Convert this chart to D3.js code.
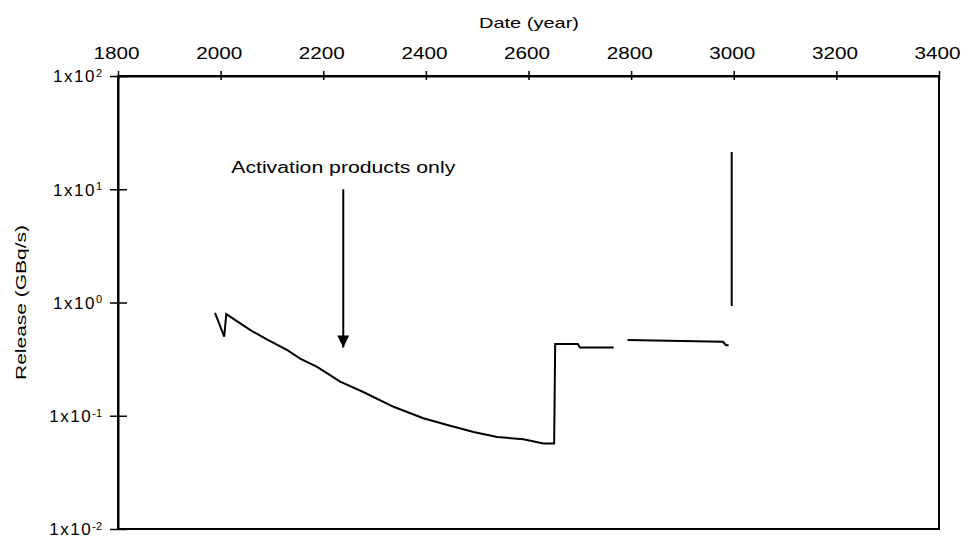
<!DOCTYPE html>
<html>
<head>
<meta charset="utf-8">
<script src="https://cdn.jsdelivr.net/npm/d3@7"></script>
<style>
  body { margin: 0; background: #fff; }
  text { font-family: "Liberation Sans", Arial, sans-serif; fill: #000; }
</style>
</head>
<body>
<div id="chart"></div>
<script>
// data
var mainYears  = [1989, 2007, 2011, 2058, 2091, 2130, 2155, 2188, 2233, 2278, 2337, 2395, 2442, 2493, 2539, 2590, 2629, 2650, 2652, 2696, 2700, 2766];
var mainValues = [0.81, 0.50, 0.79, 0.57, 0.47, 0.38, 0.32, 0.27, 0.20, 0.162, 0.12, 0.095, 0.083, 0.072, 0.065, 0.062, 0.057, 0.057, 0.43, 0.43, 0.40, 0.40];
var lateYears  = [2793, 2979, 2985, 2990];
var lateValues = [0.467, 0.45, 0.42, 0.42];
var spikeYears  = [2996, 2996];
var spikeValues = [21.3, 0.93];

var xTicks = [1800, 2000, 2200, 2400, 2600, 2800, 3000, 3200, 3400];
var yTicks = [1e-2, 1e-1, 1e0, 1e1, 1e2];
var yExponents = ["-2", "-1", "0", "1", "2"];

var annotation = {label: "Activation products only", year: 2239, from: 10, to: 0.40, textValue: 15.5};

var margin = {top: 76, right: 25, bottom: 9, left: 118},
    width = 964 - margin.left - margin.right,
    height = 538 - margin.top - margin.bottom;

var svg = d3.select("#chart")
    .append("svg")
    .attr("width", 964)
    .attr("height", 538);

var g = svg.append("g")
    .attr("transform", "translate(" + margin.left + "," + margin.top + ")");

var x = d3.scaleLinear().domain([1800, 3400]).range([0, width]);
var y = d3.scaleLog().domain([1e-2, 1e2]).range([height, 0]);

// frame
g.append("rect")
    .attr("width", width)
    .attr("height", height)
    .attr("fill", "none")
    .attr("stroke", "#000")
    .attr("stroke-width", 2);

// top axis
var xAxis = g.append("g")
    .call(d3.axisTop(x).tickValues(xTicks).tickFormat(d3.format("d")).tickSizeOuter(0));
xAxis.select(".domain").attr("stroke-width", 2);
xAxis.selectAll(".tick line").attr("y1", -5).attr("y2", 4).attr("stroke-width", 1.5);
xAxis.selectAll(".tick text")
    .attr("y", -17)
    .attr("dx", -2)
    .attr("font-size", 16)
    .attr("textLength", 46)
    .attr("lengthAdjust", "spacingAndGlyphs");

// left axis
var yAxis = g.append("g")
    .call(d3.axisLeft(y).tickValues(yTicks).tickFormat("").tickSizeOuter(0));
yAxis.select(".domain").attr("stroke-width", 2);
yAxis.selectAll(".tick line").attr("x1", -8).attr("x2", 9).attr("stroke-width", 1.5);
yAxis.selectAll(".tick").each(function (d, i) {
    var t = d3.select(this).append("text")
        .attr("x", -16)
        .attr("dy", "0.35em")
        .attr("text-anchor", "end")
        .attr("font-size", 17);
    t.append("tspan").attr("letter-spacing", 1.5).text("1x10");
    t.append("tspan")
        .attr("dy", "-0.5em")
        .attr("font-size", 11)
        .text(yExponents[i]);
});

// axis titles
svg.append("text")
    .attr("x", 529)
    .attr("y", 28)
    .attr("text-anchor", "middle")
    .attr("font-size", 15)
    .attr("textLength", 100)
    .attr("lengthAdjust", "spacingAndGlyphs")
    .text("Date (year)");

svg.append("text")
    .attr("transform", "translate(26," + (margin.top + height / 2) + ") rotate(-90)")
    .attr("text-anchor", "middle")
    .attr("font-size", 15)
    .attr("textLength", 155)
    .attr("lengthAdjust", "spacingAndGlyphs")
    .text("Release (GBq/s)");

// lines
var line = d3.line()
    .x(d => x(d[0]))
    .y(d => y(d[1]));

[[mainYears, mainValues], [lateYears, lateValues], [spikeYears, spikeValues]].forEach(function (s) {
    g.append("path")
        .datum(d3.zip(s[0], s[1]))
        .attr("d", line)
        .attr("fill", "none")
        .attr("stroke", "#000")
        .attr("stroke-width", 2);
});

// annotation arrow
svg.append("defs").append("marker")
    .attr("id", "arrowhead")
    .attr("viewBox", "0 -5 10 10")
    .attr("refX", 10)
    .attr("refY", 0)
    .attr("orient", "auto")
    .attr("markerUnits", "userSpaceOnUse")
    .attr("markerWidth", 14)
    .attr("markerHeight", 12)
    .append("path")
    .attr("d", "M0,-5L10,0L0,5Z")
    .attr("fill", "#000");

g.append("line")
    .attr("x1", x(annotation.year))
    .attr("x2", x(annotation.year))
    .attr("y1", y(annotation.from))
    .attr("y2", y(annotation.to))
    .attr("stroke", "#000")
    .attr("stroke-width", 2)
    .attr("marker-end", "url(#arrowhead)");

g.append("text")
    .attr("x", x(annotation.year))
    .attr("y", y(annotation.textValue))
    .attr("dy", "0.35em")
    .attr("text-anchor", "middle")
    .attr("font-size", 16)
    .attr("textLength", 224)
    .attr("lengthAdjust", "spacingAndGlyphs")
    .text(annotation.label);
</script>
</body>
</html>
